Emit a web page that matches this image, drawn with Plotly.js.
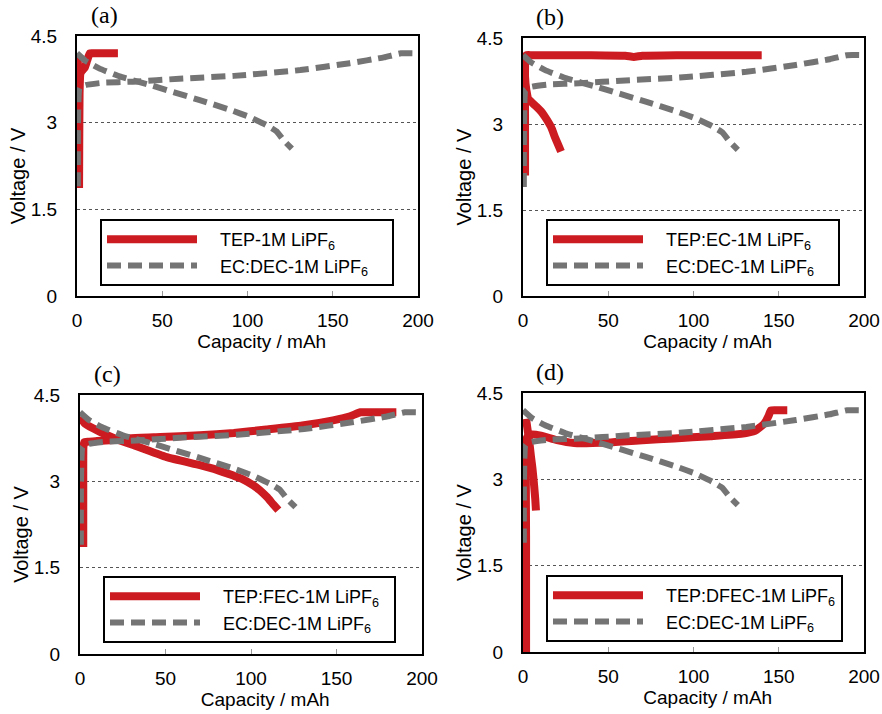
<!DOCTYPE html>
<html>
<head>
<meta charset="utf-8">
<script src="https://cdn.plot.ly/plotly-3.0.1.min.js"></script>
<style>html,body{margin:0;padding:0;background:#fff}#chart{width:882px;height:714px}</style>
</head>
<body>
<div id="chart"></div>
<script>
// ---------- data ----------
const panelLabels = ['(a)', '(b)', '(c)', '(d)'];
const xTicks = [0, 50, 100, 150, 200];
const yTicks = [0, 1.5, 3, 4.5];
const refName = 'EC:DEC-1M LiPF<sub>6</sub>';
const testNames = ['TEP-1M LiPF<sub>6</sub>', 'TEP:EC-1M LiPF<sub>6</sub>', 'TEP:FEC-1M LiPF<sub>6</sub>', 'TEP:DFEC-1M LiPF<sub>6</sub>'];
const xTitleText = 'Capacity / mAh';
const yTitleText = 'Voltage / V';

// EC:DEC reference cell (same in every panel): charge then discharge
const refChargeX = [0.5, 0.6, 1.5, 5, 15, 33, 60, 92, 131, 160, 180, 190, 200];
const refChargeY = [1.9, 3.0, 3.6, 3.65, 3.69, 3.71, 3.76, 3.81, 3.91, 4.03, 4.13, 4.2, 4.2];
const refDischargeX = [0, 5, 13, 25, 43, 72, 90, 101, 111, 117, 121, 126];
const refDischargeY = [4.2, 4.07, 3.94, 3.8, 3.65, 3.39, 3.22, 3.1, 2.96, 2.85, 2.7, 2.55];

// (a) TEP-1M LiPF6
const aChargeX = [1.2, 1.3, 1.5, 2, 3, 4.5, 6, 7.5, 10, 15, 20, 24];
const aChargeY = [1.87, 2.5, 3.5, 3.85, 3.9, 3.95, 4.08, 4.2, 4.2, 4.2, 4.2, 4.2];
const aDischargeX = [0.3, 0.6, 1.0];
const aDischargeY = [4.15, 4.0, 3.9];

// (b) TEP:EC-1M LiPF6
const bChargeX = [1.2, 1.2, 1.3, 2, 5, 20, 40, 60, 65, 70, 90, 110, 130, 140];
const bChargeY = [2.1, 3.0, 4.1, 4.2, 4.2, 4.2, 4.2, 4.19, 4.17, 4.19, 4.2, 4.2, 4.2, 4.2];
const bDischargeX = [0, 0.8, 1.5, 2.5, 3, 5, 8, 10.6, 13, 16.4, 19, 22.3];
const bDischargeY = [4.2, 4.0, 3.7, 3.5, 3.44, 3.38, 3.3, 3.22, 3.12, 2.95, 2.75, 2.52];

// (c) TEP:FEC-1M LiPF6
const cChargeX = [1.9, 1.9, 2, 2.5, 5, 10, 20, 30, 47, 70, 90, 109, 130, 148, 158, 164, 170, 185];
const cChargeY = [1.86, 3.0, 3.6, 3.68, 3.69, 3.7, 3.72, 3.75, 3.77, 3.8, 3.84, 3.9, 3.97, 4.06, 4.13, 4.2, 4.2, 4.2];
const cDischargeX = [0, 3, 11.7, 20, 31.2, 50.7, 70.2, 80, 89.7, 95, 101.4, 105, 109.2, 113, 116];
const cDischargeY = [4.12, 4.0, 3.86, 3.75, 3.63, 3.42, 3.28, 3.2, 3.1, 3.04, 2.93, 2.85, 2.73, 2.6, 2.5];

// (d) TEP:DFEC-1M LiPF6
const dChargeX = [1.8, 1.8, 2, 3, 5, 10.6, 20, 30, 50, 70, 88.7, 110, 127.9, 136, 141.5, 144, 145.4, 150, 155];
const dChargeY = [0, 2.0, 3.7, 3.75, 3.78, 3.76, 3.68, 3.63, 3.64, 3.68, 3.71, 3.75, 3.79, 3.84, 3.97, 4.1, 4.2, 4.2, 4.2];
const dDischargeX = [1.8, 2.5, 3.5, 4.7, 5.5, 6.5, 7.2, 7.6];
const dDischargeY = [4.05, 3.9, 3.7, 3.39, 3.2, 2.9, 2.65, 2.46];

const testX = [[aChargeX, aDischargeX], [bChargeX, bDischargeX], [cChargeX, cDischargeX], [dChargeX, dDischargeX]];
const testY = [[aChargeY, aDischargeY], [bChargeY, bDischargeY], [cChargeY, cDischargeY], [dChargeY, dDischargeY]];

// ---------- layout helpers ----------
const W = 882, H = 714;
const SANS = 'Liberation Sans, Arial, sans-serif';
const SERIF = 'Liberation Serif, Times New Roman, serif';
const RED = '#cc1b21';
const GRAY = '#747474';
const EN = '\u2002', ZW = '\u200B';
const sp = k => EN.repeat(k);

// pixel boxes of each plot area [left, right, top, bottom]
const boxes = [[77, 418, 36, 296], [523, 864, 38, 296], [80, 422, 395, 654], [523, 864, 393, 652]];
// legend top-left pixel
const legendPos = [[100, 219], [546, 219], [103, 576], [546, 575]];
// trailing spacing so the legend boxes have the same width as in the figure
const padRef = [2, 2, 0, 0];
const padTest = [0, 0, 1, 0];

function join(a, b) { return a.concat([null], b); }

const traces = [];
const layout = {
  width: W, height: H,
  margin: {l: 0, r: 0, t: 0, b: 0},
  paper_bgcolor: '#fff', plot_bgcolor: '#fff',
  font: {family: SANS, size: 18, color: '#000'},
  annotations: []
};

for (let i = 0; i < 4; i++) {
  const n = i === 0 ? '' : String(i + 1);
  const xa = 'x' + n, ya = 'y' + n;
  const lg = 'legend' + n;
  const [L, R, T, B] = boxes[i];

  traces.push({
    x: join(testX[i][0], testX[i][1]), y: join(testY[i][0], testY[i][1]),
    xaxis: xa, yaxis: ya, legend: lg,
    name: ZW + sp(2) + testNames[i] + sp(padTest[i]) + ZW,
    mode: 'lines', connectgaps: false,
    line: {color: RED, width: 8, shape: 'spline', smoothing: 0.4},
    hoverinfo: 'skip'
  });
  traces.push({
    x: join(refChargeX, refDischargeX), y: join(refChargeY, refDischargeY),
    xaxis: xa, yaxis: ya, legend: lg,
    name: ZW + sp(2) + refName + sp(padRef[i]) + ZW,
    mode: 'lines', connectgaps: false,
    line: {color: GRAY, width: 6, dash: '14px,7px', shape: 'spline', smoothing: 0.4},
    hoverinfo: 'skip'
  });

  layout['xaxis' + n] = {
    domain: [L / W, R / W], anchor: ya,
    range: [0, 200], tickvals: xTicks, ticktext: xTicks.map(String),
    ticks: 'inside', ticklen: 5, tickwidth: 1, tickcolor: '#999',
    showline: true, mirror: true, linecolor: '#000', linewidth: 2,
    showgrid: false, zeroline: false,
    tickfont: {size: 19, family: SANS},
    ticklabelstandoff: 6,
    title: {text: ZW + sp(3) + xTitleText, font: {size: 19, family: SANS}, standoff: 3}
  };
  layout['yaxis' + n] = {
    domain: [1 - B / H, 1 - T / H], anchor: xa,
    range: [0, 4.5], tickvals: yTicks, ticktext: yTicks.map(String),
    ticks: '', showline: true, mirror: true, linecolor: '#000', linewidth: 2,
    showgrid: true, gridcolor: '#555', griddash: 'dot', gridwidth: 1,
    zeroline: false,
    tickfont: {size: 19, family: SANS},
    ticklabelstandoff: 14,
    title: {text: yTitleText + sp(2) + ZW, font: {size: 20, family: SANS}, standoff: 0}
  };
  layout[lg] = {
    x: legendPos[i][0] / W, y: 1 - legendPos[i][1] / H,
    xanchor: 'left', yanchor: 'top',
    bgcolor: '#fff', bordercolor: '#000', borderwidth: 2,
    font: {size: 18, family: SANS},
    traceorder: 'normal', itemwidth: 90,
    tracegroupgap: 0
  };
  layout.annotations.push({
    text: panelLabels[i], xref: 'paper', yref: 'paper',
    x: (L + 27) / W, y: 1 - (T - 21) / H, xanchor: 'center', yanchor: 'middle',
    showarrow: false, font: {family: SERIF, size: 24, color: '#000'}
  });
}

Plotly.newPlot('chart', traces, layout, {displayModeBar: false, staticPlot: true});
</script>
</body>
</html>
